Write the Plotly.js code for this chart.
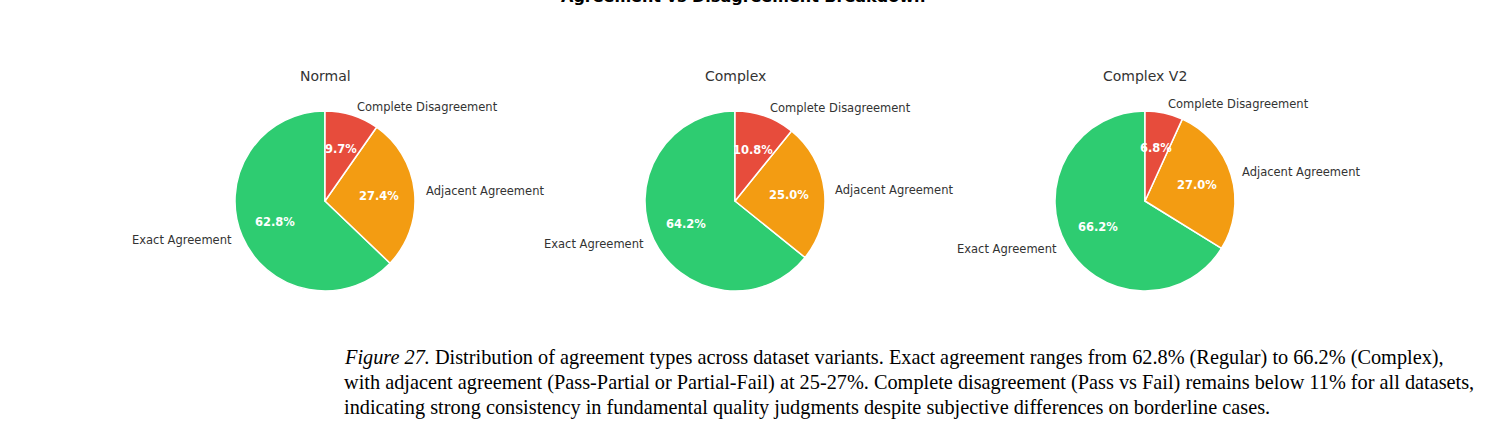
<!DOCTYPE html>
<html>
<head>
<meta charset="utf-8">
<script src="https://cdn.plot.ly/plotly-3.0.1.min.js"></script>
<style>html,body{margin:0;padding:0;background:#fff;}#chart{width:1494px;height:447px;}</style>
</head>
<body>
<div id="chart"></div>
<script>
// ---- data ----
const categories = ["Exact Agreement", "Adjacent Agreement", "Complete Disagreement"];
const datasets = ["Normal", "Complex", "Complex V2"];
const normalValues = [62.8, 27.4, 9.7];
const complexValues = [64.2, 25.0, 10.8];
const complexV2Values = [66.2, 27.0, 6.8];
const colors = ["#2ecc71", "#f39c12", "#e74c3c"];
const figTitle = "Agreement vs Disagreement Breakdown";
const captionLines = [
  "<i>Figure 27.</i> Distribution of agreement types across dataset variants. Exact agreement ranges from 62.8% (Regular) to 66.2% (Complex),",
  "with adjacent agreement (Pass-Partial or Partial-Fail) at 25-27%. Complete disagreement (Pass vs Fail) remains below 11% for all datasets,",
  "indicating strong consistency in fundamental quality judgments despite subjective differences on borderline cases."
];

// ---- layout ----
const W = 1494, H = 447;
const centersPx = [325, 735, 1145];
const cyPx = 201, rPx = 90;
const allValues = [normalValues, complexValues, complexV2Values];

const traces = [];
const annotations = [];
const labelFont = {family: "DejaVu Sans, sans-serif", size: 11.5, color: "#333333"};

allValues.forEach((vals, i) => {
  const cx = centersPx[i];
  const total = vals.reduce((a, b) => a + b, 0);
  traces.push({
    type: "pie",
    labels: categories,
    values: vals,
    sort: false,
    direction: "counterclockwise",
    // first slice starts at 12 o'clock and runs counterclockwise (matplotlib startangle=90)
    rotation: -vals[0] / total * 360,
    textinfo: "none",
    marker: {colors: colors, line: {color: "#ffffff", width: 1.5}},
    domain: {x: [(cx - rPx) / W, (cx + rPx) / W], y: [1 - (cyPx + rPx) / H, 1 - (cyPx - rPx) / H]},
    showlegend: false,
    hoverinfo: "label+percent"
  });
  // subplot title
  annotations.push({
    xref: "paper", yref: "paper", x: cx / W, y: 1 - 76 / H,
    text: datasets[i], showarrow: false, xanchor: "center", yanchor: "middle",
    font: {family: "DejaVu Sans, sans-serif", size: 14, color: "#333333"}
  });
  // labels and percentages computed from data (matplotlib-like placement)
  let start = 90;
  vals.forEach((v, k) => {
    const sweep = v / total * 360;
    const mid = (start + sweep / 2) * Math.PI / 180;
    start += sweep;
    const dx = Math.cos(mid), dy = Math.sin(mid);
    const lx = cx + 1.1 * rPx * dx, ly = cyPx - 1.1 * rPx * dy;
    annotations.push({
      xref: "paper", yref: "paper", x: lx / W, y: 1 - ly / H,
      text: categories[k], showarrow: false,
      xanchor: dx > 0 ? "left" : "right", yanchor: "middle",
      font: labelFont
    });
    const px = cx + 0.6 * rPx * dx, py = cyPx - 0.6 * rPx * dy;
    annotations.push({
      xref: "paper", yref: "paper", x: px / W, y: 1 - py / H,
      text: "<b>" + v.toFixed(1) + "%</b>", showarrow: false,
      xanchor: "center", yanchor: "middle",
      font: {family: "DejaVu Sans, sans-serif", size: 11.5, color: "#ffffff"}
    });
  });
});

// cut-off figure title at the very top (as in the reference)
annotations.push({
  xref: "paper", yref: "paper", x: 743 / W, y: 1, yanchor: "bottom", yshift: -8,
  text: "<b>" + figTitle + "</b>", showarrow: false, xanchor: "center",
  font: {family: "DejaVu Sans, sans-serif", size: 16, color: "#000000"}
});

// caption
captionLines.forEach((line, j) => {
  annotations.push({
    xref: "paper", yref: "paper", x: 342 / W, y: 1 - (357 + 25 * j) / H,
    xanchor: "left", yanchor: "middle", showarrow: false, align: "left",
    text: line,
    font: {family: "Liberation Serif, Times New Roman, serif", size: 20.3, color: "#000000"}
  });
});

const layout = {
  width: W, height: H,
  margin: {l: 0, r: 0, t: 0, b: 0},
  paper_bgcolor: "#ffffff",
  plot_bgcolor: "#ffffff",
  showlegend: false,
  annotations: annotations
};

Plotly.newPlot("chart", traces, layout, {displayModeBar: false, staticPlot: true});
</script>
</body>
</html>
